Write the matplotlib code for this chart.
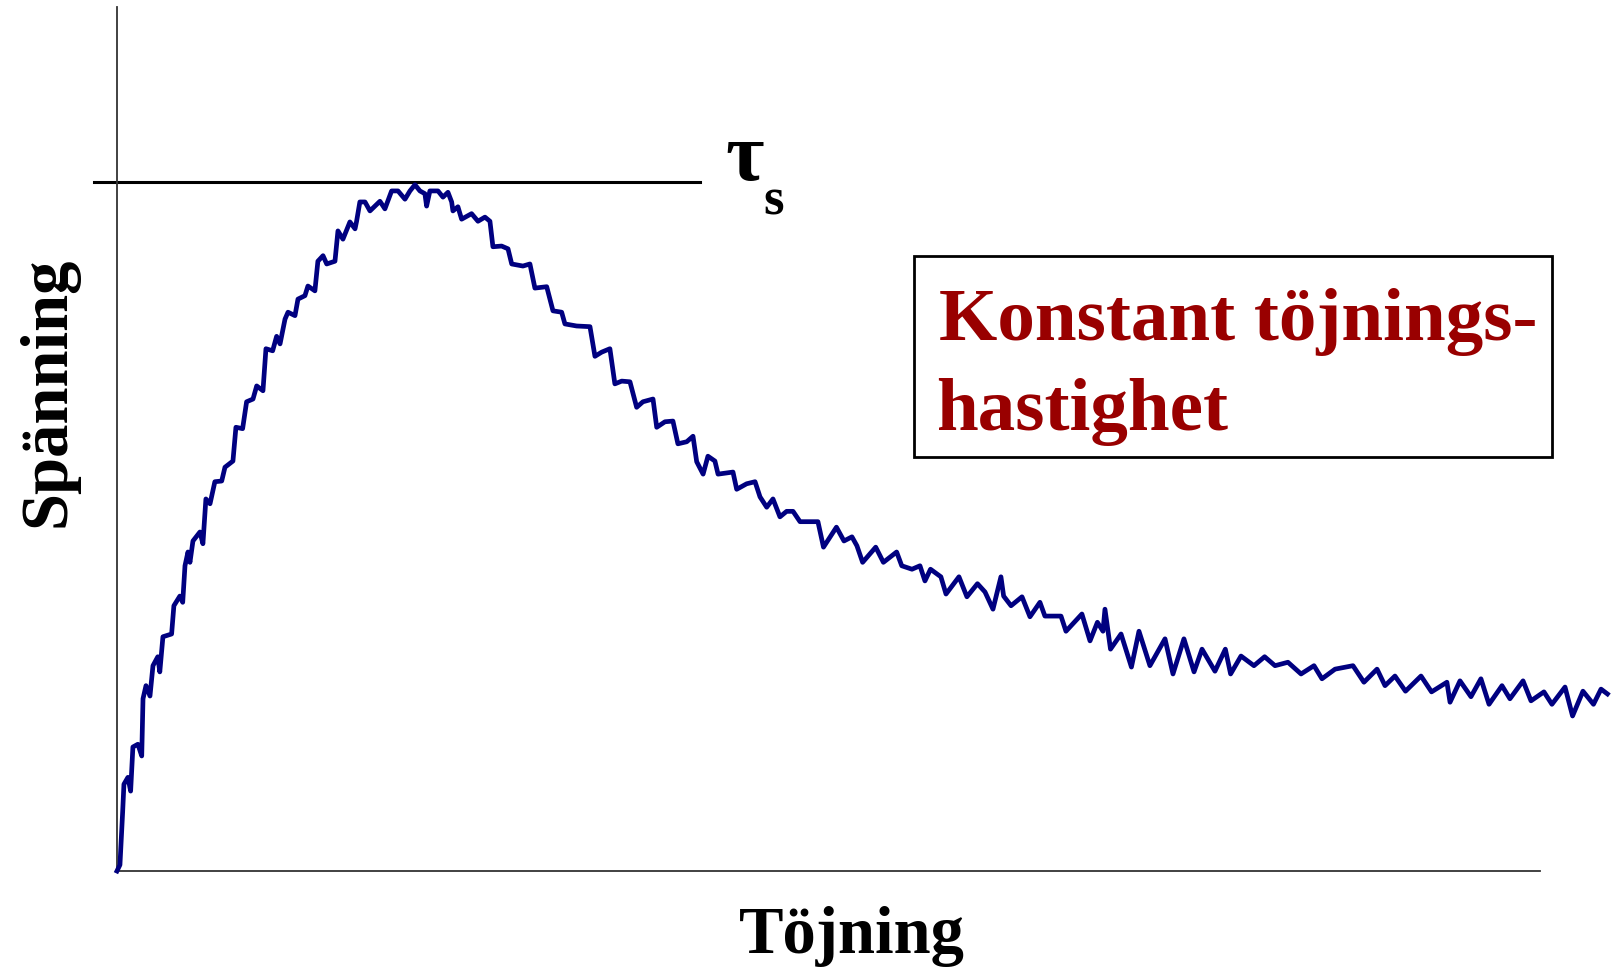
import matplotlib
matplotlib.use("Agg")
import matplotlib.pyplot as plt
from matplotlib.patches import Rectangle

# Strain (x) and stress (y); tau_s = 100
strain = [0.0, 0.21, 0.40, 0.49, 0.77, 0.96, 1.12, 1.47, 1.74, 1.83, 2.04, 2.32,
          2.53, 2.87, 3.01, 3.23, 3.84, 4.00, 4.42, 4.62, 4.78, 4.99, 5.13, 5.34,
          5.83, 6.04, 6.25, 6.54, 6.88, 7.36, 7.59, 8.15, 8.36, 8.83, 9.11, 9.56,
          9.82, 10.26, 10.47, 10.94, 11.22, 11.46, 11.81, 12.02, 12.51, 12.72, 13.21,
          13.42, 13.91, 14.12, 14.48, 14.74, 15.32, 15.53, 15.88, 16.37, 16.73, 16.84,
          17.07, 17.43, 17.78, 18.48, 18.83, 19.30, 19.75, 20.24, 20.59, 20.94, 21.29,
          21.64, 21.76, 21.99, 22.56, 22.91, 23.26, 23.52, 23.61, 23.96, 24.22, 24.92,
          25.37, 25.86, 26.21, 26.42, 27.03, 27.48, 27.74, 28.53, 29.02, 29.37, 30.20,
          30.64, 31.25, 31.48, 32.30, 33.24, 33.59, 34.06, 34.64, 34.99, 35.47, 36.05,
          36.52, 36.96, 37.67, 37.93, 38.51, 39.07, 39.42, 40.04, 40.48, 40.74, 41.19,
          41.53, 42.02, 42.24, 43.29, 43.55, 44.25, 44.84, 45.19, 45.66, 46.10, 46.59,
          47.06, 47.51, 48.00, 49.26, 49.65, 50.56, 51.09, 51.65, 52.00, 52.40, 53.32,
          53.86, 54.79, 55.15, 55.87, 56.43, 56.78, 57.17, 57.90, 58.26, 59.17, 59.73,
          60.47, 61.00, 61.56, 62.12, 62.31, 62.83, 63.60, 64.16, 64.86, 65.21, 66.34,
          66.69, 67.81, 68.38, 68.90, 69.29, 69.43, 69.82, 70.56, 71.29, 71.82, 72.59,
          73.65, 74.21, 74.98, 75.69, 76.25, 77.16, 77.89, 78.26, 78.99, 79.90, 80.65,
          81.38, 82.29, 83.21, 84.12, 84.68, 85.60, 86.86, 87.63, 88.55, 89.11, 89.81,
          90.55, 91.64, 92.38, 93.46, 93.68, 94.38, 95.15, 95.85, 96.42, 97.33, 97.89,
          98.81, 99.37, 100.28, 100.84, 101.76, 102.29, 103.02, 103.76, 104.29, 104.74]
stress = [0.0, 0.9, 8.6, 12.6, 13.6, 11.6, 18.0, 18.4, 16.7, 25.0, 26.9, 25.4,
          29.8, 31.1, 28.9, 34.0, 34.4, 38.5, 39.9, 39.0, 44.3, 46.3, 44.8, 47.9,
          49.2, 47.5, 54.0, 53.3, 56.5, 56.6, 58.6, 59.5, 64.4, 64.2, 68.1, 68.5,
          70.4, 69.7, 75.8, 75.5, 77.6, 76.5, 80.1, 81.1, 80.6, 83.0, 83.5,
          84.9, 84.2, 88.5, 89.3, 88.1, 88.5, 92.9, 91.7, 94.2, 93.2, 94.3,
          97.1, 97.1, 95.8, 97.2, 96.1, 98.7, 98.7, 97.5, 98.7, 99.6, 98.7,
          98.3, 96.5, 98.7, 98.7, 97.8, 98.5, 97.1, 95.8, 96.4, 94.6, 95.4,
          94.3, 94.9, 94.3, 90.6, 90.7, 90.3, 88.1, 87.8, 88.1, 84.6, 84.8,
          81.3, 81.1, 79.4, 79.1, 79.0, 74.7, 75.3, 75.8, 70.7, 71.1, 71.0,
          67.3, 68.1, 68.5, 64.4, 65.2, 65.3, 62.0, 62.3, 63.1, 59.4, 57.6,
          60.2, 59.5, 57.6, 57.9, 55.4, 56.2, 56.5, 54.3, 52.8, 54.0, 51.4,
          52.2, 52.2, 50.7, 50.7, 47.0, 49.9, 47.9, 48.5, 47.2, 44.8, 47.0,
          44.8, 46.3, 44.3, 43.8, 44.3, 42.1, 43.8, 42.7, 40.2, 42.7, 39.8,
          41.7, 40.5, 38.0, 42.7, 39.9, 38.5, 39.8, 36.9, 39.0, 37.0, 37.0,
          34.8, 37.3, 33.4, 36.1, 34.8, 38.0, 32.2, 34.4, 29.6, 34.8, 29.8,
          33.7, 28.6, 33.7, 28.9, 32.2, 29.0, 32.2, 28.6, 31.2, 29.8, 31.1,
          29.8, 30.3, 28.6, 29.8, 27.9, 29.3, 29.8, 27.4, 29.3, 26.9, 28.3,
          26.1, 28.3, 26.0, 27.4, 24.5, 27.6, 25.3, 27.9, 24.2, 26.9, 25.0,
          27.6, 24.7, 26.0, 24.2, 26.7, 22.5, 26.1, 24.2, 26.4, 25.7]

tau_s = 100.0
tau_line_strain = [-1.6, 41.0]

fig = plt.figure(figsize=(16.2, 9.7), dpi=100)
ax = fig.add_axes([0.0722, 0.101, 0.8784, 0.8908])
ax.set_xlim(0, 100)
ax.set_ylim(0, 125.4)

# Stress-strain curve
ax.plot(strain, stress, color='#000080', linewidth=3.4, solid_joinstyle='round',
        clip_on=False, zorder=3)

# tau_s level
ax.plot(tau_line_strain, [tau_s, tau_s], color='black', linewidth=2.2, clip_on=False, zorder=2)

# Axes: only left and bottom lines, no ticks
for side in ['top', 'right']:
    ax.spines[side].set_visible(False)
for side in ['left', 'bottom']:
    ax.spines[side].set_color('#333333')
    ax.spines[side].set_linewidth(1.3)
ax.set_xticks([])
ax.set_yticks([])

serif = ['Liberation Serif', 'DejaVu Serif']

fig.text(0.4475, 0.8144, 'τ', fontsize=60, family=serif, weight='bold', va='baseline', ha='left')
fig.text(0.471, 0.7784, 's', fontsize=38, family=serif, weight='bold', va='baseline', ha='left')

# Axis labels
fig.text(0.526, 0.0175, 'Töjning', fontsize=48, family=serif, weight='bold',
         ha='center', va='baseline')
fig.text(0.0105, 0.596, 'Spänning', fontsize=48, family=serif, weight='bold',
         rotation=90, ha='left', va='center')

# Boxed note
fig.patches.append(Rectangle((914 / 1620, 1 - 458 / 970), (1552 - 914) / 1620, (458 - 257) / 970,
                             transform=fig.transFigure, fill=False, edgecolor='black', linewidth=2))
fig.text(0.5796, 0.6495, 'Konstant töjnings-', fontsize=54, family=serif, weight='bold',
         color='#990000', va='baseline', ha='left')
fig.text(0.578, 0.5567, 'hastighet', fontsize=54, family=serif, weight='bold',
         color='#990000', va='baseline', ha='left')

fig.savefig('out.png', dpi=100, facecolor='white')
